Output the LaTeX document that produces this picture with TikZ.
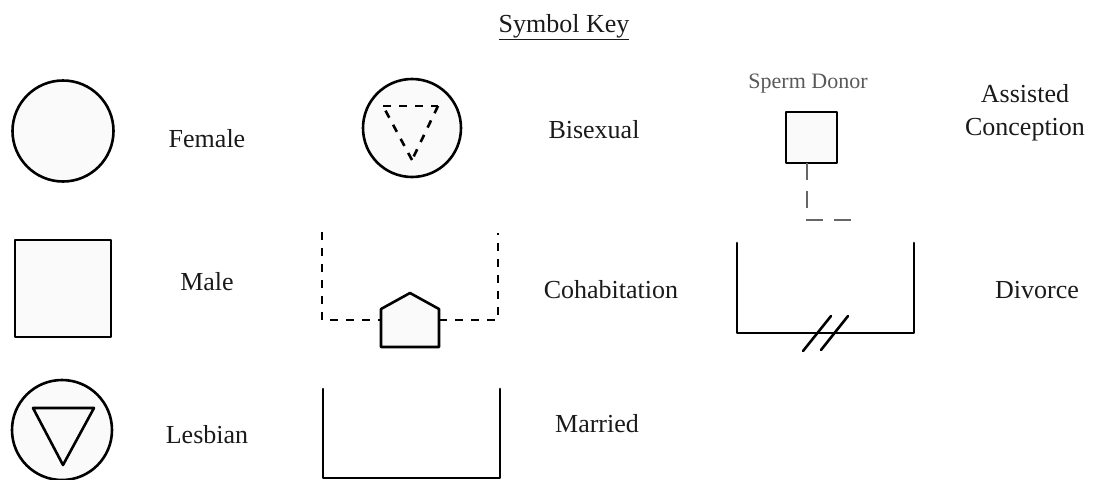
\documentclass[tikz,border=0pt]{standalone}
\usepackage{fontspec}
\setmainfont{Liberation Serif}
\definecolor{symfill}{HTML}{FAFAFA}
\definecolor{ink}{HTML}{1A1A1A}
\tikzset{
  px/.style={x=1pt,y=-1pt},
  symline/.style={draw=black,line width=2.6pt,line join=round,line cap=round},
  symdash/.style={symline,dash pattern=on 8pt off 8pt,line cap=butt},
  thin dash/.style={draw=black!60,line width=1.5pt,dash pattern=on 17pt off 11pt},
  person/.style={symline,fill=symfill,inner sep=0pt,outer sep=0pt},
  label text/.style={text=ink,font=\fontsize{26}{30}\selectfont,inner sep=0pt,align=center},
  small text/.style={text=black!65,font=\fontsize{22}{26}\selectfont,inner sep=0pt}
}
\begin{document}
\begin{tikzpicture}[px]
\useasboundingbox (0,0) rectangle (1102,479);
\clip (0,0) rectangle (1102,479);
\node[label text] (title) at (564,27) {\underline{Symbol Key}};
% Female
\node[person,circle,minimum size=101pt] (female) at (63,131) {};
\node[label text] (tfemale) at (207,139) {Female};
% Male
\node[person,rectangle,minimum width=96pt,minimum height=97pt] (male) at (63,288.5) {};
\node[label text] (tmale) at (207,282) {Male};
% Lesbian
\node[person,circle,minimum size=100pt] (lesbian) at (62,430) {};
\coordinate (la) at (33,408); \coordinate (lb) at (94,408); \coordinate (lc) at (63,465);
\draw[symline] (la) -- (lb) -- (lc) -- cycle;
\node[label text] (tlesbian) at (207,435) {Lesbian};
% Bisexual
\node[person,circle,minimum size=98pt] (bi) at (412,128) {};
\coordinate (ba) at (383,106); \coordinate (bb) at (438,106); \coordinate (bc) at (412,160);
\draw[symdash] (ba) -- (bb);
\draw[symdash] (bb) -- (bc);
\draw[symdash] (bc) -- (ba);
\node[label text] (tbi) at (594,130) {Bisexual};
% Cohabitation
\coordinate (cl) at (322,232); \coordinate (cbl) at (322,320);
\coordinate (cr) at (498,233); \coordinate (cbr) at (498,320);
\coordinate (hl) at (381,320); \coordinate (hr) at (439,320);
\draw[symdash] (cl) -- (cbl) -- (hl);
\draw[symdash] (hr) -- (cbr) -- (cr);
\draw[symline,fill=symfill] (381,347) -- (381,309) -- (410,293) -- (439,309) -- (439,347) -- cycle;
\node[label text] (tcohab) at (611,290) {Cohabitation};
% Married
\coordinate (ma) at (323,389); \coordinate (mb) at (323,478);
\coordinate (mc) at (500,478); \coordinate (md) at (500,389);
\draw[symline] (ma) -- (mb) -- (mc) -- (md);
\node[label text] (tmarried) at (597,424) {Married};
% Assisted conception
\node[small text] (tdonor) at (808,84) {Sperm Donor};
\node[person,rectangle,minimum width=51pt,minimum height=51pt] (donor) at (811.5,137.5) {};
\coordinate (dturn) at (807,220); \coordinate (dend) at (852,220);
\draw[thin dash] (807,163) -- (dturn) -- (dend);
\node[label text] (tassist) at (1025,113) {Assisted\\[3pt]Conception};
% Divorce
\coordinate (da) at (737,243); \coordinate (db) at (737,333);
\coordinate (dc) at (914,333); \coordinate (dd) at (914,243);
\draw[symline] (da) -- (db) -- (dc) -- (dd);
\coordinate (s1a) at (803,351); \coordinate (s1b) at (831,316);
\coordinate (s2a) at (821,350); \coordinate (s2b) at (848,316);
\draw[symline] (s1a) -- (s1b);
\draw[symline] (s2a) -- (s2b);
\node[label text] (tdivorce) at (1037,290) {Divorce};
\end{tikzpicture}
\end{document}
